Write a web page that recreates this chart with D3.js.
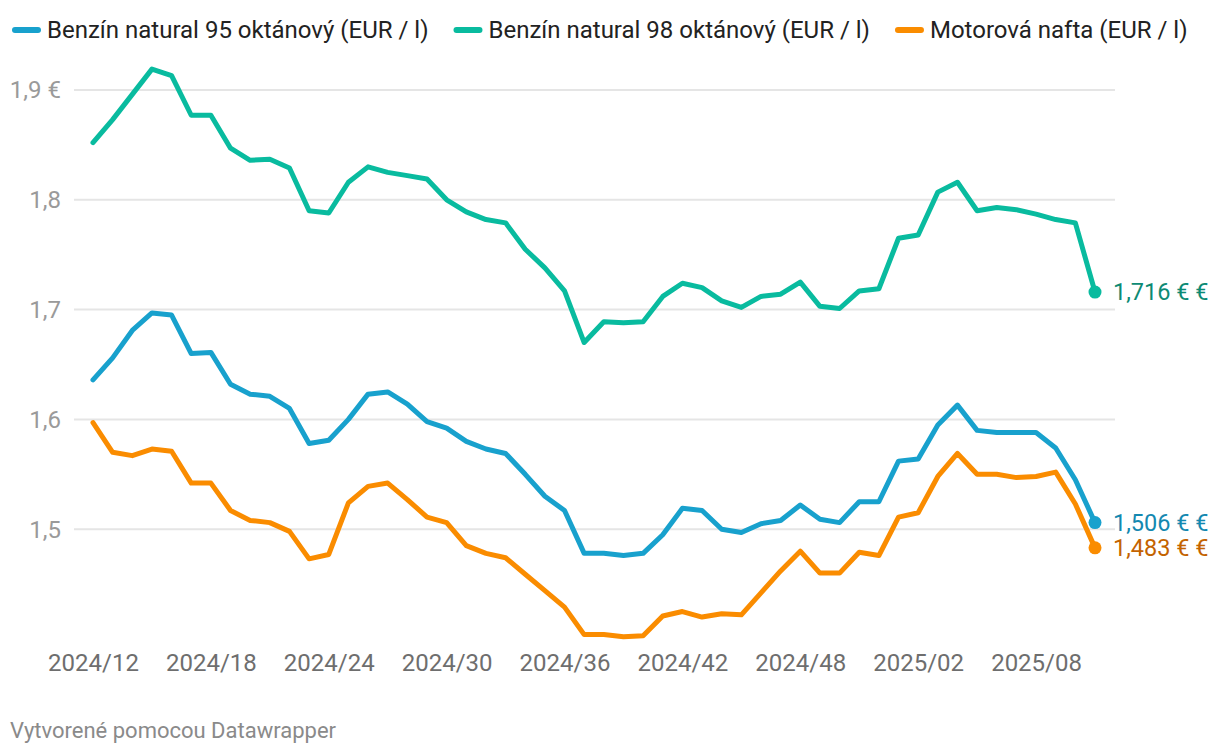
<!DOCTYPE html>
<html>
<head>
<meta charset="utf-8">
<script src="https://cdn.jsdelivr.net/npm/d3@7"></script>
<style>
  body { margin: 0; background: #fff; font-family: Roboto, "Noto Sans", sans-serif; }
</style>
</head>
<body>
<div id="chart"></div>
<script>
// weekly fuel prices, 2024/12 .. 2025/11
var weeks = [];
for (var w = 12; w <= 52; w++) weeks.push("2024/" + (w < 10 ? "0" + w : w));
for (var w = 1; w <= 11; w++) weeks.push("2025/" + (w < 10 ? "0" + w : w));

var benzin95 = [1.636, 1.656, 1.681, 1.697, 1.695, 1.660, 1.661, 1.632, 1.623, 1.621,
  1.610, 1.578, 1.581, 1.600, 1.623, 1.625, 1.614, 1.598, 1.592, 1.580,
  1.573, 1.569, 1.550, 1.530, 1.517, 1.478, 1.478, 1.476, 1.478, 1.495,
  1.519, 1.517, 1.500, 1.497, 1.505, 1.508, 1.522, 1.509, 1.506, 1.525,
  1.525, 1.562, 1.564, 1.595, 1.613, 1.590, 1.588, 1.588, 1.588, 1.574,
  1.545, 1.506];

var benzin98 = [1.852, 1.873, 1.896, 1.919, 1.913, 1.877, 1.877, 1.847, 1.836, 1.837,
  1.829, 1.790, 1.788, 1.816, 1.830, 1.825, 1.822, 1.819, 1.800, 1.789,
  1.782, 1.779, 1.755, 1.738, 1.717, 1.670, 1.689, 1.688, 1.689, 1.712,
  1.724, 1.720, 1.708, 1.702, 1.712, 1.714, 1.725, 1.703, 1.701, 1.717,
  1.719, 1.765, 1.768, 1.807, 1.816, 1.790, 1.793, 1.791, 1.787, 1.782,
  1.779, 1.716];

var nafta = [1.597, 1.570, 1.567, 1.573, 1.571, 1.542, 1.542, 1.517, 1.508, 1.506,
  1.498, 1.473, 1.477, 1.524, 1.539, 1.542, 1.527, 1.511, 1.506, 1.485,
  1.478, 1.474, 1.459, 1.444, 1.429, 1.404, 1.404, 1.402, 1.403, 1.421,
  1.425, 1.420, 1.423, 1.422, 1.442, 1.462, 1.480, 1.460, 1.460, 1.479,
  1.476, 1.511, 1.515, 1.548, 1.569, 1.550, 1.550, 1.547, 1.548, 1.552,
  1.523, 1.483];

var seriesNames = ["Benzín natural 95 oktánový (EUR / l)", "Benzín natural 98 oktánový (EUR / l)", "Motorová nafta (EUR / l)"];
var seriesColors = ["#18a1cd", "#09bb9f", "#fa8c00"];
var labelColors = ["#1488b0", "#0d8a74", "#c46300"];
var yTicks = [1.5, 1.6, 1.7, 1.8, 1.9];
var xTicks = ["2024/12", "2024/18", "2024/24", "2024/30", "2024/36", "2024/42", "2024/48", "2025/02", "2025/08"];

var series = [benzin95, benzin98, nafta].map(function(v, i) {
  return { name: seriesNames[i], color: seriesColors[i], label: labelColors[i], values: v };
});

var width = 1220, height = 756;

var svg = d3.select("#chart")
  .append("svg")
    .attr("width", width)
    .attr("height", height);

var x = d3.scalePoint()
  .domain(weeks)
  .range([93, 1095]);

var y = d3.scaleLinear()
  .domain([1.4, 1.9])
  .range([639, 90]);

// gridlines + y labels
var grid = svg.append("g");
grid.selectAll("line")
  .data(yTicks)
  .enter()
  .append("line")
    .attr("x1", 74)
    .attr("x2", 1115)
    .attr("y1", function(d) { return y(d); })
    .attr("y2", function(d) { return y(d); })
    .attr("stroke", "#e5e5e5")
    .attr("stroke-width", 2);

grid.selectAll("text")
  .data(yTicks)
  .enter()
  .append("text")
    .attr("x", 61)
    .attr("y", function(d) { return y(d); })
    .attr("dy", "0.35em")
    .attr("text-anchor", "end")
    .attr("fill", "#9a9a9a")
    .style("font-size", "24px")
    .text(function(d) { return d3.format(".1f")(d).replace(".", ",") + (d === 1.9 ? " €" : ""); });

// x axis labels
var xAxis = svg.append("g")
  .attr("transform", "translate(0,663)")
  .call(d3.axisBottom(x).tickValues(xTicks).tickSize(0).tickPadding(0));
xAxis.select(".domain").remove();
xAxis.selectAll("text")
  .attr("dy", "0.35em")
  .attr("y", 0)
  .attr("fill", "#6e6e6e")
  .style("font-family", "Roboto, sans-serif")
  .style("font-size", "24px");

// lines
var line = d3.line()
  .x(function(d, i) { return x(weeks[i]); })
  .y(function(d) { return y(d); });

var lines = svg.append("g");
lines.selectAll("path")
  .data(series)
  .enter()
  .append("path")
    .attr("d", function(d) { return line(d.values); })
    .attr("fill", "none")
    .attr("stroke", function(d) { return d.color; })
    .attr("stroke-width", 5)
    .attr("stroke-linejoin", "round")
    .attr("stroke-linecap", "round");

var last = weeks.length - 1;
lines.selectAll("circle")
  .data(series)
  .enter()
  .append("circle")
    .attr("cx", x(weeks[last]))
    .attr("cy", function(d) { return y(d.values[last]); })
    .attr("r", 6.5)
    .attr("fill", function(d) { return d.color; });

lines.selectAll(".valueLabel")
  .data(series)
  .enter()
  .append("text")
    .attr("class", "valueLabel")
    .attr("x", x(weeks[last]) + 18)
    .attr("y", function(d) { return y(d.values[last]); })
    .attr("dy", "0.35em")
    .attr("fill", function(d) { return d.label; })
    .style("font-size", "23.5px")
    .text(function(d) { return d3.format(".3f")(d.values[last]).replace(".", ",") + " € €"; });

// legend
var legend = svg.append("g").attr("transform", "translate(12,30)");
var lx = 0;
series.forEach(function(s) {
  var g = legend.append("g").attr("transform", "translate(" + lx + ",0)");
  g.append("line")
    .attr("x1", 3).attr("x2", 26)
    .attr("y1", 0).attr("y2", 0)
    .attr("stroke", s.color)
    .attr("stroke-width", 6)
    .attr("stroke-linecap", "round");
  var t = g.append("text")
    .attr("x", 35)
    .attr("dy", "0.35em")
    .attr("fill", "#222")
    .style("font-size", "24px")
    .text(s.name);
  lx += 35 + t.node().getComputedTextLength() + 25;
});

// footer
svg.append("text")
  .attr("x", 10)
  .attr("y", 730)
  .attr("dy", "0.35em")
  .attr("fill", "#8a8a8a")
  .style("font-size", "22px")
  .text("Vytvorené pomocou Datawrapper");
</script>
</body>
</html>
